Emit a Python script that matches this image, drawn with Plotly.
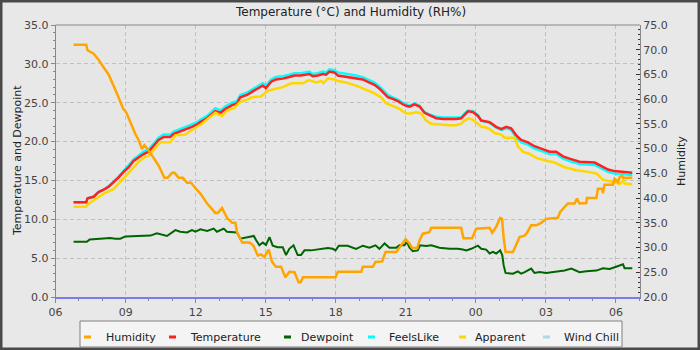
import plotly.graph_objects as go
import pandas as pd

W, H = 700, 350
BASE = pd.Timestamp("2024-01-01 00:00")

# ---- data (time in hours from day-1 midnight) ----
hum_h = [6.77, 7.31, 7.37, 7.63, 7.84, 7.99, 8.09, 8.27, 8.46, 8.66, 8.89, 9.03, 9.2, 9.41, 9.56, 9.7, 9.8, 9.94,
         10.2, 10.41, 10.66, 10.8, 10.99, 11.1, 11.27, 11.45, 11.63, 11.8, 11.99, 12.2, 12.49, 12.84, 12.95, 13.13,
         13.34, 13.56, 13.7, 13.77, 13.99, 14.3, 14.47, 14.66, 14.8, 14.94, 15.13, 15.27, 15.44, 15.66, 15.84, 16.01,
         16.23, 16.41, 16.5, 16.59, 17.99, 18.09, 19.09, 19.16, 19.59, 19.7, 19.99, 20.13, 20.59, 20.8, 20.99, 21.16,
         21.27, 21.49, 21.59, 21.73, 22.01, 22.09, 23.37, 23.47, 23.84, 24.01, 24.59, 24.7, 24.87, 25.04, 25.12, 25.19,
         25.27, 25.59, 25.76, 25.87, 26.09, 26.19, 26.37, 26.59, 26.8, 27.01, 27.51, 27.61, 27.76, 27.94, 28.23, 28.33,
         28.44, 28.73, 28.76, 29.16, 29.23, 29.41, 29.44, 29.51, 29.87, 29.94, 30.09, 30.16, 30.27, 30.3, 30.7]
hum_v = [71.0, 71.0, 69.9, 69.2, 68.0, 66.8, 66.2, 65.0, 63.1, 60.8, 58.1, 57.3, 55.4, 53.0, 51.7, 49.9, 50.7, 49.9,
         48.1, 46.6, 44.1, 44.1, 45.1, 45.1, 44.1, 44.1, 43.1, 43.1, 42.0, 40.9, 38.9, 37.0, 37.0, 38.0,
         36.0, 35.0, 35.0, 33.1, 31.0, 31.0, 30.4, 28.4, 28.6, 28.1, 29.6, 27.1, 26.1, 26.1, 24.0, 25.1,
         25.0, 23.0, 23.0, 24.0, 24.0, 25.1, 25.1, 26.1, 26.1, 27.1, 27.2, 29.1, 29.1, 30.4, 31.7, 30.8,
         29.9, 29.9, 31.5, 32.8, 33.1, 34.0, 34.0, 31.9, 31.9, 33.8, 34.0, 33.0, 34.2, 36.0, 35.8, 32.0,
         29.1, 29.1, 30.8, 32.1, 32.4, 33.0, 34.5, 34.5, 35.0, 35.8, 36.0, 37.2, 38.0, 38.9, 38.9, 39.9,
         38.9, 39.0, 40.0, 40.0, 41.9, 41.9, 41.0, 42.7, 42.7, 43.9, 43.3, 44.3, 44.5, 44.1, 44.1]

temp_h = [6.77, 7.31, 7.37, 7.63, 7.84, 8.06, 8.27, 8.49, 8.7, 8.91, 9.13, 9.34, 9.56, 9.77, 9.99, 10.2, 10.41, 10.63,
          10.91, 11.06, 11.34, 11.63, 11.84, 12.06, 12.2, 12.49, 12.7, 12.84, 13.06, 13.27, 13.56, 13.77, 13.91, 14.2,
          14.41, 14.63, 14.87, 15.01, 15.23, 15.44, 15.73, 16.01, 16.23, 16.51, 16.73, 16.87, 17.01, 17.23, 17.44,
          17.59, 17.73, 17.94, 18.09, 18.3, 18.59, 18.87, 19.16, 19.44, 19.66, 19.87, 20.09, 20.23, 20.44, 20.66,
          20.87, 21.01, 21.16, 21.37, 21.59, 21.8, 22.01, 22.3, 22.59, 23.16, 23.37, 23.51, 23.66, 23.87, 24.09,
          24.23, 24.59, 24.87, 25.09, 25.3, 25.51, 25.73, 25.94, 26.23, 26.51, 26.8, 27.16, 27.44, 27.73, 28.01,
          28.44, 29.09, 29.37, 29.66, 29.94, 30.16, 30.37, 30.7]
temp_v = [12.2, 12.2, 12.7, 12.9, 13.5, 13.8, 14.2, 14.8, 15.4, 16.1, 16.7, 17.5, 18.0, 18.4, 18.7, 19.5, 20.2, 20.6,
          20.6, 21.0, 21.3, 21.6, 21.9, 22.2, 22.5, 23.0, 23.6, 23.9, 23.7, 24.2, 24.7, 24.9, 25.7, 26.0,
          26.4, 26.8, 27.2, 26.9, 27.7, 28.0, 28.1, 28.3, 28.5, 28.5, 28.6, 28.7, 28.4, 28.5, 28.7,
          28.6, 29.0, 28.9, 28.5, 28.4, 28.3, 28.2, 28.0, 27.6, 27.3, 26.8, 26.2, 25.7, 25.5, 25.2,
          24.8, 24.6, 24.5, 24.8, 24.5, 23.7, 23.4, 23.0, 22.9, 22.9, 23.0, 23.5, 23.9, 23.8, 23.3,
          22.7, 22.5, 21.9, 21.6, 21.9, 21.7, 20.8, 20.2, 19.9, 19.4, 19.1, 18.7, 18.7, 18.1, 17.8,
          17.4, 17.3, 16.9, 16.4, 16.2, 16.1, 16.1, 16.0]

feels_h = temp_h
feels_v = [12.2, 12.2, 12.7, 12.9, 13.5, 13.8, 14.2, 14.8, 15.5, 16.2, 16.9, 17.7, 18.2, 18.7, 19.0, 19.8, 20.5, 20.9,
           20.9, 21.3, 21.6, 21.9, 22.2, 22.5, 22.8, 23.3, 23.9, 24.3, 24.0, 24.5, 25.0, 25.2, 26.0, 26.3,
           26.7, 27.1, 27.5, 27.2, 28.0, 28.3, 28.4, 28.6, 28.8, 28.8, 28.9, 29.0, 28.7, 28.8, 29.0,
           28.9, 29.3, 29.2, 28.9, 28.8, 28.7, 28.5, 28.3, 27.9, 27.6, 27.1, 26.5, 26.0, 25.7, 25.4,
           25.0, 24.8, 24.6, 24.9, 24.6, 23.8, 23.5, 23.2, 23.1, 23.1, 23.1, 23.6, 24.0, 23.9, 23.4,
           22.7, 22.4, 21.8, 21.5, 21.7, 21.5, 20.5, 19.9, 19.6, 19.1, 18.8, 18.4, 18.4, 17.8, 17.5,
           17.1, 17.0, 16.6, 16.1, 15.9, 15.8, 15.8, 15.7]

dew_h = [6.77, 7.34, 7.46, 7.84, 8.06, 8.34, 8.56, 8.77, 8.99, 9.49, 9.77, 10.06, 10.34, 10.77, 11.13, 11.34, 11.63,
         11.84, 11.99, 12.2, 12.49, 12.77, 12.91, 13.2, 13.34, 13.77, 13.91, 14.2, 14.49, 14.59, 14.73, 14.87, 15.01,
         15.16, 15.3, 15.51, 15.73, 15.87, 16.01, 16.19, 16.37, 16.51, 16.66, 16.94, 17.23, 17.66, 17.87, 17.99,
         18.13, 18.51, 18.87, 19.16, 19.44, 19.7, 19.87, 20.09, 20.3, 20.59, 20.73, 20.94, 21.04, 21.16, 21.3, 21.51,
         21.61, 21.87, 22.09, 22.44, 22.87, 23.23, 23.44, 23.59, 23.8, 24.09, 24.23, 24.44, 24.59, 24.73, 24.87,
         25.04, 25.13, 25.19, 25.27, 25.59, 25.8, 25.94, 26.09, 26.37, 26.51, 26.73, 27.01, 27.37, 27.59, 27.8,
         28.09, 28.44, 28.73, 29.16, 29.44, 29.73, 30.01, 30.3, 30.37, 30.7]
dew_v = [7.1, 7.1, 7.4, 7.5, 7.5, 7.6, 7.5, 7.5, 7.8, 7.85, 7.85, 7.9, 8.2, 7.85, 8.6, 8.4, 8.3,
         8.6, 8.4, 8.7, 8.5, 8.8, 8.4, 8.8, 8.4, 8.3, 7.5, 7.7, 7.85, 7.3, 6.65, 7.0, 6.7,
         7.7, 6.6, 6.4, 6.4, 5.4, 6.2, 6.65, 5.4, 5.4, 6.0, 6.0, 6.1, 6.3, 6.2, 6.0,
         6.6, 6.6, 6.2, 6.6, 6.35, 6.65, 6.2, 6.9, 6.35, 6.35, 6.65, 6.65, 7.1, 6.35, 5.9, 6.0,
         6.65, 6.55, 6.65, 6.35, 6.2, 6.2, 6.1, 6.0, 6.2, 6.6, 6.2, 6.1, 5.6, 5.8, 5.6,
         6.0, 5.4, 4.1, 3.1, 3.0, 3.3, 3.0, 3.2, 3.65, 3.1, 3.2, 3.1, 3.2, 3.3, 3.4,
         3.65, 3.2, 3.3, 3.4, 3.7, 3.6, 3.9, 4.2, 3.7, 3.7]

app_h = [6.77, 7.31, 7.41, 7.77, 8.06, 8.49, 8.77, 9.06, 9.34, 9.56, 9.77, 9.99, 10.13, 10.49, 10.91, 11.13, 11.56,
         11.84, 12.06, 12.27, 12.56, 12.84, 13.13, 13.34, 13.63, 13.91, 14.2, 14.41, 14.8, 14.94, 15.16, 15.44,
         15.73, 16.09, 16.59, 16.84, 17.16, 17.37, 17.47, 17.66, 17.94, 18.09, 18.44, 18.87, 19.23, 19.66, 19.94,
         20.16, 20.44, 20.73, 21.01, 21.23, 21.44, 21.66, 21.87, 22.09, 22.87, 23.16, 23.37, 23.51, 23.7, 23.87,
         24.09, 24.23, 24.44, 24.59, 24.8, 25.09, 25.23, 25.66, 25.8, 26.01, 26.3, 26.59, 26.94, 27.37, 27.8,
         28.3, 28.8, 29.16, 29.44, 29.73, 30.01, 30.16, 30.3, 30.37, 30.7]
app_v = [11.6, 11.6, 12.0, 12.7, 13.3, 13.9, 14.8, 15.7, 16.7, 17.4, 17.9, 18.2, 18.7, 19.9, 19.9, 20.8, 20.9,
         21.5, 21.9, 22.3, 23.0, 23.7, 23.3, 24.0, 24.3, 25.1, 25.4, 25.7, 25.8, 26.2, 26.6, 26.8,
         27.0, 27.5, 27.5, 27.9, 27.6, 27.8, 27.5, 28.1, 28.0, 27.8, 27.6, 27.2, 26.7, 26.2, 25.7,
         24.9, 24.6, 24.2, 23.6, 23.6, 23.8, 23.6, 22.7, 22.3, 22.1, 22.1, 22.3, 22.7, 23.0, 22.8,
         22.3, 21.9, 21.8, 21.6, 21.1, 20.9, 20.5, 20.5, 19.4, 18.7, 18.4, 17.9, 17.6, 17.3, 16.7,
         16.3, 16.1, 15.9, 15.1, 14.9, 14.7, 14.5, 15.0, 14.6, 14.5]

wind_h = []
wind_v = []

series_names = ["Humidity", "Temperature", "Dewpoint", "FeelsLike", "Apparent", "Wind Chill"]
series_colors = ["#ffa500", "#ff2020", "#006400", "#00ffff", "#ffd700", "#add8e6"]
chart_title = "Temperature (°C) and Humidity (RH%)"
left_title = "Temperature and Dewpoint"
right_title = "Humidity"


def to_time(hours):
    return [BASE + pd.Timedelta(hours=h) for h in hours]


series = {
    "Humidity": (hum_h, hum_v, "y2", 2.5),
    "FeelsLike": (feels_h, feels_v, "y", 2.5),
    "Temperature": (temp_h, temp_v, "y", 2.5),
    "Dewpoint": (dew_h, dew_v, "y", 2.0),
    "Apparent": (app_h, app_v, "y", 2.5),
    "Wind Chill": (wind_h, wind_v, "y", 2.5),
}
color_of = dict(zip(series_names, series_colors))

fig = go.Figure()
for name, (hh, vv, yax, lw) in series.items():
    fig.add_trace(go.Scatter(x=to_time(hh), y=vv, mode="lines", name=name, yaxis=yax,
                             line=dict(color=color_of[name], width=lw), showlegend=False))

# ---- layout geometry (pixels) ----
PL, PR, PT, PB = 55.6, 640.0, 25.0, 297.0
px = lambda x: x / W
py = lambda y: 1 - y / H

grid = dict(showgrid=True, gridcolor="#c0c0c0", gridwidth=1, griddash="4px,3px")
tfont = dict(family="DejaVu Sans", size=11, color="#444444")

fig.update_layout(
    width=W, height=H, autosize=False,
    margin=dict(l=0, r=0, t=0, b=0, autoexpand=False),
    paper_bgcolor="#e8e8e8", plot_bgcolor="#e6e6e6",
    font=dict(family="DejaVu Sans", size=11, color="#333333"),
    xaxis=dict(domain=[px(PL), px(PR)], type="date", automargin=False,
               range=[BASE + pd.Timedelta(hours=6), BASE + pd.Timedelta(hours=31.03)],
               tick0=BASE + pd.Timedelta(hours=6), dtick=3 * 3600 * 1000, tickformat="%H",
               ticks="outside", ticklen=4, tickcolor="#888888", tickfont=tfont,
               minor=dict(dtick=3600 * 1000, ticks="outside", ticklen=2, tickcolor="#888888", showgrid=False),
               showline=True, linecolor="#7b7bee", linewidth=2, zeroline=False, **grid),
    yaxis=dict(domain=[py(PB), py(PT)], range=[0, 35], dtick=5, tickformat=".1f", automargin=False,
               ticks="outside", ticklen=4, tickcolor="#888888", tickfont=tfont,
               minor=dict(dtick=1, ticks="outside", ticklen=2, tickcolor="#888888", showgrid=False),
               showline=True, linecolor="#888888", linewidth=1, zeroline=False, **grid),
    yaxis2=dict(overlaying="y", side="right", anchor="x", range=[20, 75], dtick=5, tickformat=".1f",
                automargin=False,
                ticks="inside", ticklen=4, tickcolor="#333333", tickfont=tfont,
                minor=dict(dtick=1, ticks="inside", ticklen=2, tickcolor="#333333", showgrid=False),
                showline=True, linecolor="#888888", linewidth=1, zeroline=False, showgrid=False),
)

shapes = [
    dict(type="line", xref="x domain", yref="y domain", x0=0, x1=1, y0=1, y1=1,
         line=dict(color="#888888", width=1)),
    dict(type="rect", xref="paper", yref="paper", x0=0, x1=1, y0=0, y1=1,
         line=dict(color="#4a4a4a", width=5), layer="above"),
    dict(type="rect", xref="paper", yref="paper", x0=px(80), x1=px(622), y0=py(347), y1=py(321),
         fillcolor="#f4f4f4", line=dict(color="#808080", width=1)),
]
annotations = [
    dict(text=chart_title, xref="paper", yref="paper", x=0.5, y=py(12), xanchor="center", yanchor="middle",
         showarrow=False, font=dict(family="DejaVu Sans", size=12, color="#222222")),
    dict(text=left_title, xref="paper", yref="paper", x=px(17), y=py(161), xanchor="center", yanchor="middle",
         textangle=-90, showarrow=False, font=dict(family="DejaVu Sans", size=11, color="#222222")),
    dict(text=right_title, xref="paper", yref="paper", x=px(681), y=py(161), xanchor="center", yanchor="middle",
         textangle=-90, showarrow=False, font=dict(family="DejaVu Sans", size=11, color="#222222")),
]
leg_sym_x = [84, 169, 284, 368, 459, 543]
leg_txt_x = [104, 188, 299, 387, 473, 562]
LEG_Y = 337
for name, col, sx, tx in zip(series_names, series_colors, leg_sym_x, leg_txt_x):
    shapes.append(dict(type="line", xref="paper", yref="paper", x0=px(sx), x1=px(sx + 7),
                       y0=py(LEG_Y), y1=py(LEG_Y), line=dict(color=col, width=3)))
    annotations.append(dict(text=name, xref="paper", yref="paper", x=px(tx), y=py(LEG_Y),
                            xanchor="left", yanchor="middle", showarrow=False,
                            font=dict(family="DejaVu Sans", size=11, color="#222222")))
fig.update_layout(shapes=shapes, annotations=annotations)

fig.write_html("out.html")
